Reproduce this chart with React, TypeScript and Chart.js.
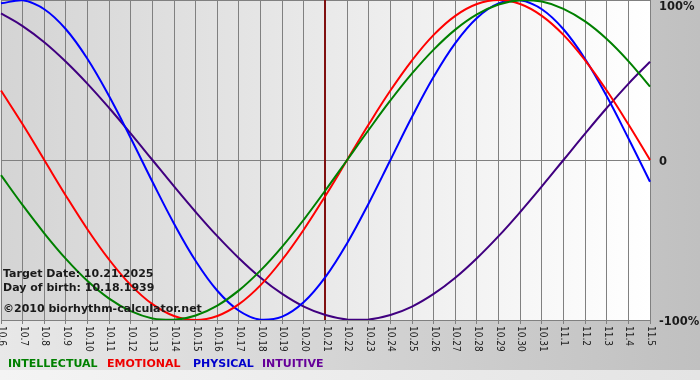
import { useEffect, useRef } from 'react';
import { Chart, registerables } from 'chart.js';

Chart.register(...registerables);

const dayLabels = [
  '10.6', '10.7', '10.8', '10.9', '10.10', '10.11', '10.12', '10.13', '10.14', '10.15', '10.16',
  '10.17', '10.18', '10.19', '10.20', '10.21', '10.22', '10.23', '10.24', '10.25', '10.26',
  '10.27', '10.28', '10.29', '10.30', '10.31', '11.1', '11.2', '11.3', '11.4', '11.5',
];

const intellectual = [
  -9.5, -28.2, -45.8, -61.8, -75.6, -86.6, -94.5, -99.0, -99.9, -97.2, -91.0, -81.5, -69.0, -54.1,
  -37.2, -18.9, 0, 18.9, 37.2, 54.1, 69.0, 81.5, 91.0, 97.2, 99.9, 99.0, 94.5, 86.6, 75.6, 61.8, 45.8,
];
const emotional = [
  43.4, 22.3, 0, -22.3, -43.4, -62.3, -78.2, -90.1, -97.5, -100, -97.5, -90.1, -78.2, -62.3, -43.4,
  -22.3, 0, 22.3, 43.4, 62.3, 78.2, 90.1, 97.5, 100, 97.5, 90.1, 78.2, 62.3, 43.4, 22.3, 0,
];
const physical = [
  97.9, 99.8, 94.2, 81.7, 63.1, 39.8, 13.6, -13.6, -39.8, -63.1, -81.7, -94.2, -99.8, -97.9, -88.8,
  -73.1, -52.0, -27.0, 0, 27.0, 52.0, 73.1, 88.8, 97.9, 99.8, 94.2, 81.7, 63.1, 39.8, 13.6, -13.6,
];
const intuitive = [
  91.6, 83.7, 73.6, 61.4, 47.6, 32.5, 16.5, 0, -16.5, -32.5, -47.6, -61.4, -73.6, -83.7, -91.6,
  -96.9, -99.7, -99.7, -96.9, -91.6, -83.7, -73.6, -61.4, -47.6, -32.5, -16.5, 0, 16.5, 32.5, 47.6, 61.4,
];

const seriesNames = ['INTELLECTUAL', 'EMOTIONAL', 'PHYSICAL', 'INTUITIVE'];
const seriesValues = [intellectual, emotional, physical, intuitive];
const seriesColors = ['#008000', '#ff0000', '#0000ff', '#400080'];
const legendColors = ['#008000', '#ee0000', '#0000cc', '#660099'];

const yTickValues = [100, 0, -100];
const yTickLabels = ['100%', '0', '-100%'];

const targetDay = '10.21';
const infoLines = ['Target Date: 10.21.2025', 'Day of birth: 10.18.1939', '\u00a92010 biorhythm-calculator.net'];

const decorPlugin = {
  id: 'decor',
  beforeDraw(chart: any) {
    const { ctx, chartArea: a, width, height } = chart;
    ctx.save();
    let g = ctx.createLinearGradient(0, 0, width, 0);
    g.addColorStop(0, '#e8e8e8');
    g.addColorStop(1, '#c0c0c0');
    ctx.fillStyle = g;
    ctx.fillRect(0, 0, width, height);
    g = ctx.createLinearGradient(0, 0, width, 0);
    g.addColorStop(0, '#f4f4f4');
    g.addColorStop(1, '#e4e4e4');
    ctx.fillStyle = g;
    ctx.fillRect(0, 370, width, height - 370);
    g = ctx.createLinearGradient(a.left, 0, a.right, 0);
    g.addColorStop(0, '#d4d4d4');
    g.addColorStop(1, '#ffffff');
    ctx.fillStyle = g;
    ctx.fillRect(a.left, a.top, a.right - a.left, a.bottom - a.top);
    ctx.restore();
  },
  beforeDatasetsDraw(chart: any) {
    const { ctx, chartArea: a } = chart;
    const x = chart.scales.x.getPixelForValue(dayLabels.indexOf(targetDay));
    ctx.save();
    ctx.strokeStyle = '#801010';
    ctx.lineWidth = 2;
    ctx.beginPath();
    ctx.moveTo(Math.round(x) - 1, a.top);
    ctx.lineTo(Math.round(x) - 1, a.bottom);
    ctx.stroke();
    ctx.restore();
  },
  afterDatasetsDraw(chart: any) {
    const { ctx } = chart;
    ctx.save();
    ctx.font = 'bold 11px "DejaVu Sans"';
    ctx.fillStyle = '#1a1a1a';
    ctx.textAlign = 'left';
    ctx.textBaseline = 'alphabetic';
    const ys = [277, 291, 312];
    infoLines.forEach((t, i) => ctx.fillText(t, 3, ys[i]));
    ctx.restore();
  },
  afterDraw(chart: any) {
    const { ctx, chartArea: a } = chart;
    const xs = chart.scales.x;
    const ys = chart.scales.y;
    ctx.save();
    // x labels, reading top to bottom
    ctx.font = '10px "Liberation Sans Narrow", "DejaVu Sans Condensed", sans-serif';
    ctx.fillStyle = '#222222';
    ctx.textAlign = 'left';
    ctx.textBaseline = 'middle';
    dayLabels.forEach((lab, i) => {
      const x = xs.getPixelForValue(i);
      ctx.save();
      ctx.translate(Math.round(x) + 0.5, a.bottom + 6);
      ctx.rotate(Math.PI / 2);
      ctx.fillText(lab, 0, 0);
      ctx.restore();
    });
    // y labels
    ctx.font = 'bold 11.5px "DejaVu Sans"';
    ctx.fillStyle = '#1a1a1a';
    yTickValues.forEach((v, i) => {
      const y = Math.max(ys.getPixelForValue(v) + 2, 7.5);
      ctx.fillText(yTickLabels[i], a.right + 9, y);
    });
    // legend
    ctx.font = 'bold 11px "DejaVu Sans"';
    ctx.textBaseline = 'alphabetic';
    const lx = [8, 107, 193, 262];
    seriesNames.forEach((n, i) => {
      ctx.fillStyle = legendColors[i];
      ctx.fillText(n, lx[i], 367);
    });
    ctx.restore();
  },
};

export default function App() {
  const ref = useRef<HTMLCanvasElement | null>(null);
  useEffect(() => {
    document.body.style.margin = '0';
    const chart = new Chart(ref.current as HTMLCanvasElement, {
      type: 'line',
      data: {
        labels: dayLabels,
        datasets: seriesNames.map((n, i) => ({
          label: n,
          data: seriesValues[i],
          borderColor: seriesColors[i],
          backgroundColor: seriesColors[i],
          borderWidth: 2,
          pointRadius: 0,
          tension: 0.4,
          fill: false,
        })),
      },
      options: {
        animation: false,
        responsive: false,
        devicePixelRatio: 1,
        layout: { padding: { left: 1, top: 0, right: 0, bottom: 0 } },
        plugins: { legend: { display: false }, tooltip: { enabled: false } },
        scales: {
          x: {
            type: 'category',
            offset: false,
            grid: { color: '#808080', lineWidth: 1, tickLength: 4, drawTicks: true },
            border: { color: '#808080' },
            ticks: { display: false, autoSkip: false },
            afterFit(s: any) {
              s.height = 60;
              s.paddingLeft = 0;
              s.paddingRight = 0;
            },
          },
          y: {
            position: 'right',
            min: -100,
            max: 100,
            ticks: { display: false, stepSize: 100 },
            grid: { color: '#808080', drawTicks: false },
            border: { color: '#808080' },
            afterFit(s: any) {
              s.width = 50;
              s.paddingTop = 0;
              s.paddingBottom = 0;
            },
          },
        },
      },
      plugins: [decorPlugin],
    });
    return () => chart.destroy();
  }, []);
  return (
    <div style={{ position: 'absolute', left: 0, top: 0, width: 700, height: 380 }}>
      <canvas ref={ref} width={700} height={380} />
    </div>
  );
}
